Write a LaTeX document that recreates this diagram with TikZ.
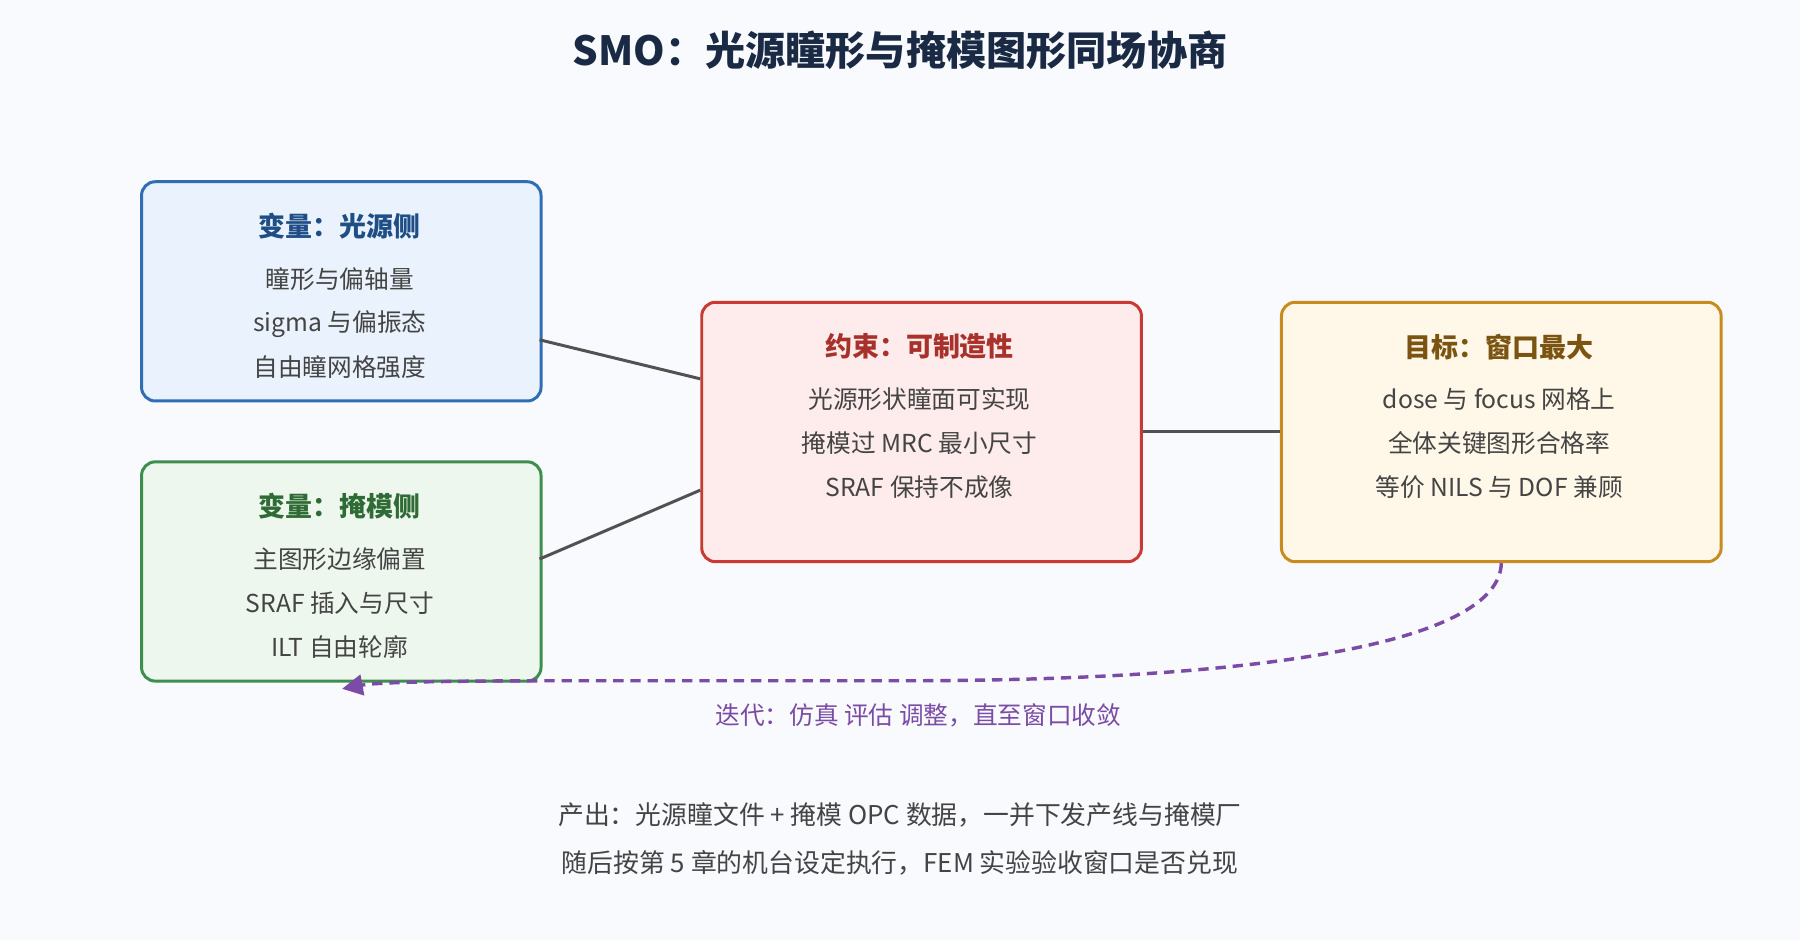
\documentclass[tikz,border=0pt]{standalone}
\usepackage{fontspec}
\setmainfont{Noto Sans CJK SC}
\usetikzlibrary{arrows.meta}
\definecolor{bg}{HTML}{F8FAFE}
\definecolor{bB}{HTML}{2F6DB5}\definecolor{fB}{HTML}{EAF3FD}\definecolor{tB}{HTML}{1F4E86}
\definecolor{bG}{HTML}{3E8E4E}\definecolor{fG}{HTML}{EEF7EE}\definecolor{tG}{HTML}{2E6B35}
\definecolor{bR}{HTML}{C83A32}\definecolor{fR}{HTML}{FDECEB}\definecolor{tR}{HTML}{A8322B}
\definecolor{bO}{HTML}{C98A1E}\definecolor{fO}{HTML}{FFF7E8}\definecolor{tO}{HTML}{7A5410}
\definecolor{pu}{HTML}{7B4BA5}\definecolor{txt}{HTML}{444444}\definecolor{ttl}{HTML}{1A2A44}
\begin{document}
\begin{tikzpicture}[x=1pt,y=-1pt,
 box/.style={draw=#1,line width=2.6pt,rounded corners=12pt,anchor=north west,inner sep=0pt},
 ttx/.style={font=\fontsize{23.5}{23.5}\selectfont\bfseries},
 btx/.style={font=\fontsize{21.5}{21.5}\selectfont,text=txt},
 conn/.style={draw=black!68,line width=2.6pt}]
\fill[bg] (0,0) rectangle (1568,819);
\useasboundingbox (0,0) rectangle (1568,819);
\node[font=\fontsize{35}{35}\selectfont\bfseries,text=ttl] (title) at (784,44) {SMO：光源瞳形与掩模图形同场协商};
% boxes
\node[box=bB,fill=fB,minimum width=348pt,minimum height=191pt] (B) at (122,157) {};
\node[box=bG,fill=fG,minimum width=348pt,minimum height=191pt] (G) at (122,401) {};
\node[box=bR,fill=fR,minimum width=383pt,minimum height=226pt] (R) at (610,262) {};
\node[box=bO,fill=fO,minimum width=383pt,minimum height=226pt] (O) at (1115,262) {};
% texts
\node[ttx,text=tB] (b0) at (296,197) {变量：光源侧};
\node[btx] (b1) at (296,243) {瞳形与偏轴量};
\node[btx] (b2) at (296,282) {sigma 与偏振态};
\node[btx] (b3) at (296,320) {自由瞳网格强度};
\node[ttx,text=tG] (g0) at (296,441) {变量：掩模侧};
\node[btx] (g1) at (296,487) {主图形边缘偏置};
\node[btx] (g2) at (296,525) {SRAF 插入与尺寸};
\node[btx] (g3) at (296,564) {ILT 自由轮廓};
\node[ttx,text=tR] (r0) at (801,302) {约束：可制造性};
\node[btx] (r1) at (801,348) {光源形状瞳面可实现};
\node[btx] (r2) at (801,386) {掩模过 MRC 最小尺寸};
\node[btx] (r3) at (801,424) {SRAF 保持不成像};
\node[ttx,text=tO] (o0) at (1306,302) {目标：窗口最大};
\node[btx] (o1) at (1306,348) {dose 与 focus 网格上};
\node[btx] (o2) at (1306,386) {全体关键图形合格率};
\node[btx] (o3) at (1306,424) {等价 NILS 与 DOF 兼顾};
% connectors
\coordinate (bR1) at (470,296); \coordinate (rL1) at (610,330);
\coordinate (gR1) at (470,487); \coordinate (rL2) at (610,427);
\draw[conn] (bR1) -- (rL1);
\draw[conn] (gR1) -- (rL2);
\draw[conn] (R.east) -- (O.west);
\coordinate (aend) at (298,600);
\draw[pu,line width=3pt,dash pattern=on 9pt off 6pt,-{Triangle[length=18pt,width=18pt]}]
  (O.south) .. controls (1306,560) and (1100,592) .. (800,593) -- (500,593) .. controls (400,593) and (330,594) .. (aend);
\node[font=\fontsize{21.5}{21.5}\selectfont,text=pu] (it) at (800,623) {迭代：仿真 评估 调整，直至窗口收敛};
\node[btx,font=\fontsize{22.5}{22.5}\selectfont] (f1) at (784,710) {产出：光源瞳文件 + 掩模 OPC 数据，一并下发产线与掩模厂};
\node[btx,font=\fontsize{22.5}{22.5}\selectfont] (f2) at (784,752) {随后按第 5 章的机台设定执行，FEM 实验验收窗口是否兑现};
\end{tikzpicture}
\end{document}
